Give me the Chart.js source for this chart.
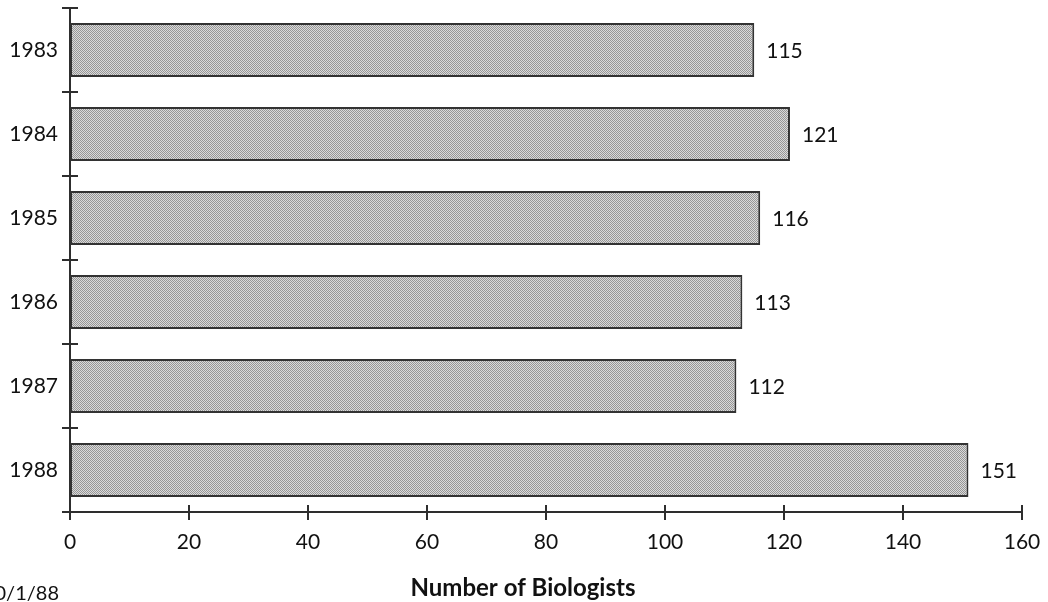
<!DOCTYPE html>
<html>
<head>
<meta charset="utf-8">
<script src="https://cdn.jsdelivr.net/npm/chart.js@4/dist/chart.umd.min.js"></script>
<style>
  html, body { margin: 0; padding: 0; background: #fff; }
  #wrap { width: 1048px; height: 602px; position: relative; }
</style>
</head>
<body>
<div id="wrap"><canvas id="c" width="1048" height="602"></canvas></div>
<script>
const years = ['1983', '1984', '1985', '1986', '1987', '1988'];
const biologists = [115, 121, 116, 113, 112, 151];
const xTicks = [0, 20, 40, 60, 80, 100, 120, 140, 160];

const FONT = 'Lato, "DejaVu Sans", sans-serif';
const INK = '#2e2e2e';

// dithered grey fill for the bars
function ditherPattern() {
  const p = document.createElement('canvas');
  p.width = 2; p.height = 2;
  const g = p.getContext('2d');
  g.fillStyle = '#dadada'; g.fillRect(0, 0, 2, 2);
  g.fillStyle = '#969696'; g.fillRect(0, 0, 1, 1); g.fillRect(1, 1, 1, 1);
  return g.createPattern(p, 'repeat');
}

// small cross ticks on both axes, value labels and captions
const decorations = {
  id: 'decorations',
  afterDatasetsDraw(chart) {
    const ctx = chart.ctx;
    const xs = chart.scales.x, ys = chart.scales.y;
    const area = chart.chartArea;
    ctx.save();
    ctx.strokeStyle = INK;
    ctx.lineWidth = 2;
    // y axis: band boundaries, crossing the axis line
    const n = years.length;
    for (let i = 0; i <= n; i++) {
      const y = area.top + (area.bottom - area.top) * i / n;
      ctx.beginPath();
      ctx.moveTo(area.left - 8, y);
      ctx.lineTo(area.left + 8, y);
      ctx.stroke();
    }
    // x axis ticks, crossing the axis line
    xTicks.forEach(v => {
      const x = xs.getPixelForValue(v);
      ctx.beginPath();
      ctx.moveTo(x, area.bottom - 7);
      ctx.lineTo(x, area.bottom + 8);
      ctx.stroke();
    });
    // value labels at bar ends
    ctx.fillStyle = '#111';
    ctx.font = '21px ' + FONT;
    ctx.textBaseline = 'middle';
    ctx.textAlign = 'left';
    biologists.forEach((v, i) => {
      ctx.fillText(String(v), xs.getPixelForValue(v) + 12, ys.getPixelForValue(i) + 1);
    });
    // axis title and date stamp
    ctx.textBaseline = 'alphabetic';
    ctx.font = 'bold 24px ' + FONT;
    ctx.textAlign = 'center';
    ctx.fillText('Number of Biologists', 523, 596);
    ctx.font = '20px ' + FONT;
    ctx.textAlign = 'right';
    ctx.fillText('10/1/88', 59, 600);
    ctx.restore();
  }
};

new Chart(document.getElementById('c'), {
  type: 'bar',
  data: {
    labels: years,
    datasets: [{
      data: biologists,
      backgroundColor: ditherPattern(),
      borderColor: '#333333',
      borderWidth: 2,
      borderSkipped: false,
      barPercentage: 0.64,
      categoryPercentage: 1.0
    }]
  },
  options: {
    indexAxis: 'y',
    responsive: false,
    animation: false,
    events: [],
    layout: { padding: { top: 8, right: 26, left: 0, bottom: 0 } },
    plugins: { legend: { display: false }, tooltip: { enabled: false } },
    scales: {
      x: {
        min: 0, max: 160,
        afterFit(s) {
          s.height = 90;
          s.paddingLeft = 0; s.paddingRight = 0;
          s.paddingTop = 0; s.paddingBottom = 0;
        },
        afterBuildTicks(s) { s.ticks = xTicks.map(v => ({ value: v })); },
        border: { display: true, color: INK, width: 2 },
        grid: { display: false },
        ticks: {
          color: '#111',
          font: { family: FONT, size: 21 },
          padding: 10,
          maxRotation: 0
        }
      },
      y: {
        offset: true,
        afterFit(s) {
          s.width = 70;
          s.paddingLeft = 0; s.paddingRight = 0;
          s.paddingTop = 0; s.paddingBottom = 0;
        },
        border: { display: true, color: INK, width: 2 },
        grid: { display: false },
        ticks: {
          color: '#111',
          font: { family: FONT, size: 21 },
          padding: 4
        }
      }
    }
  },
  plugins: [decorations]
});
</script>
</body>
</html>
